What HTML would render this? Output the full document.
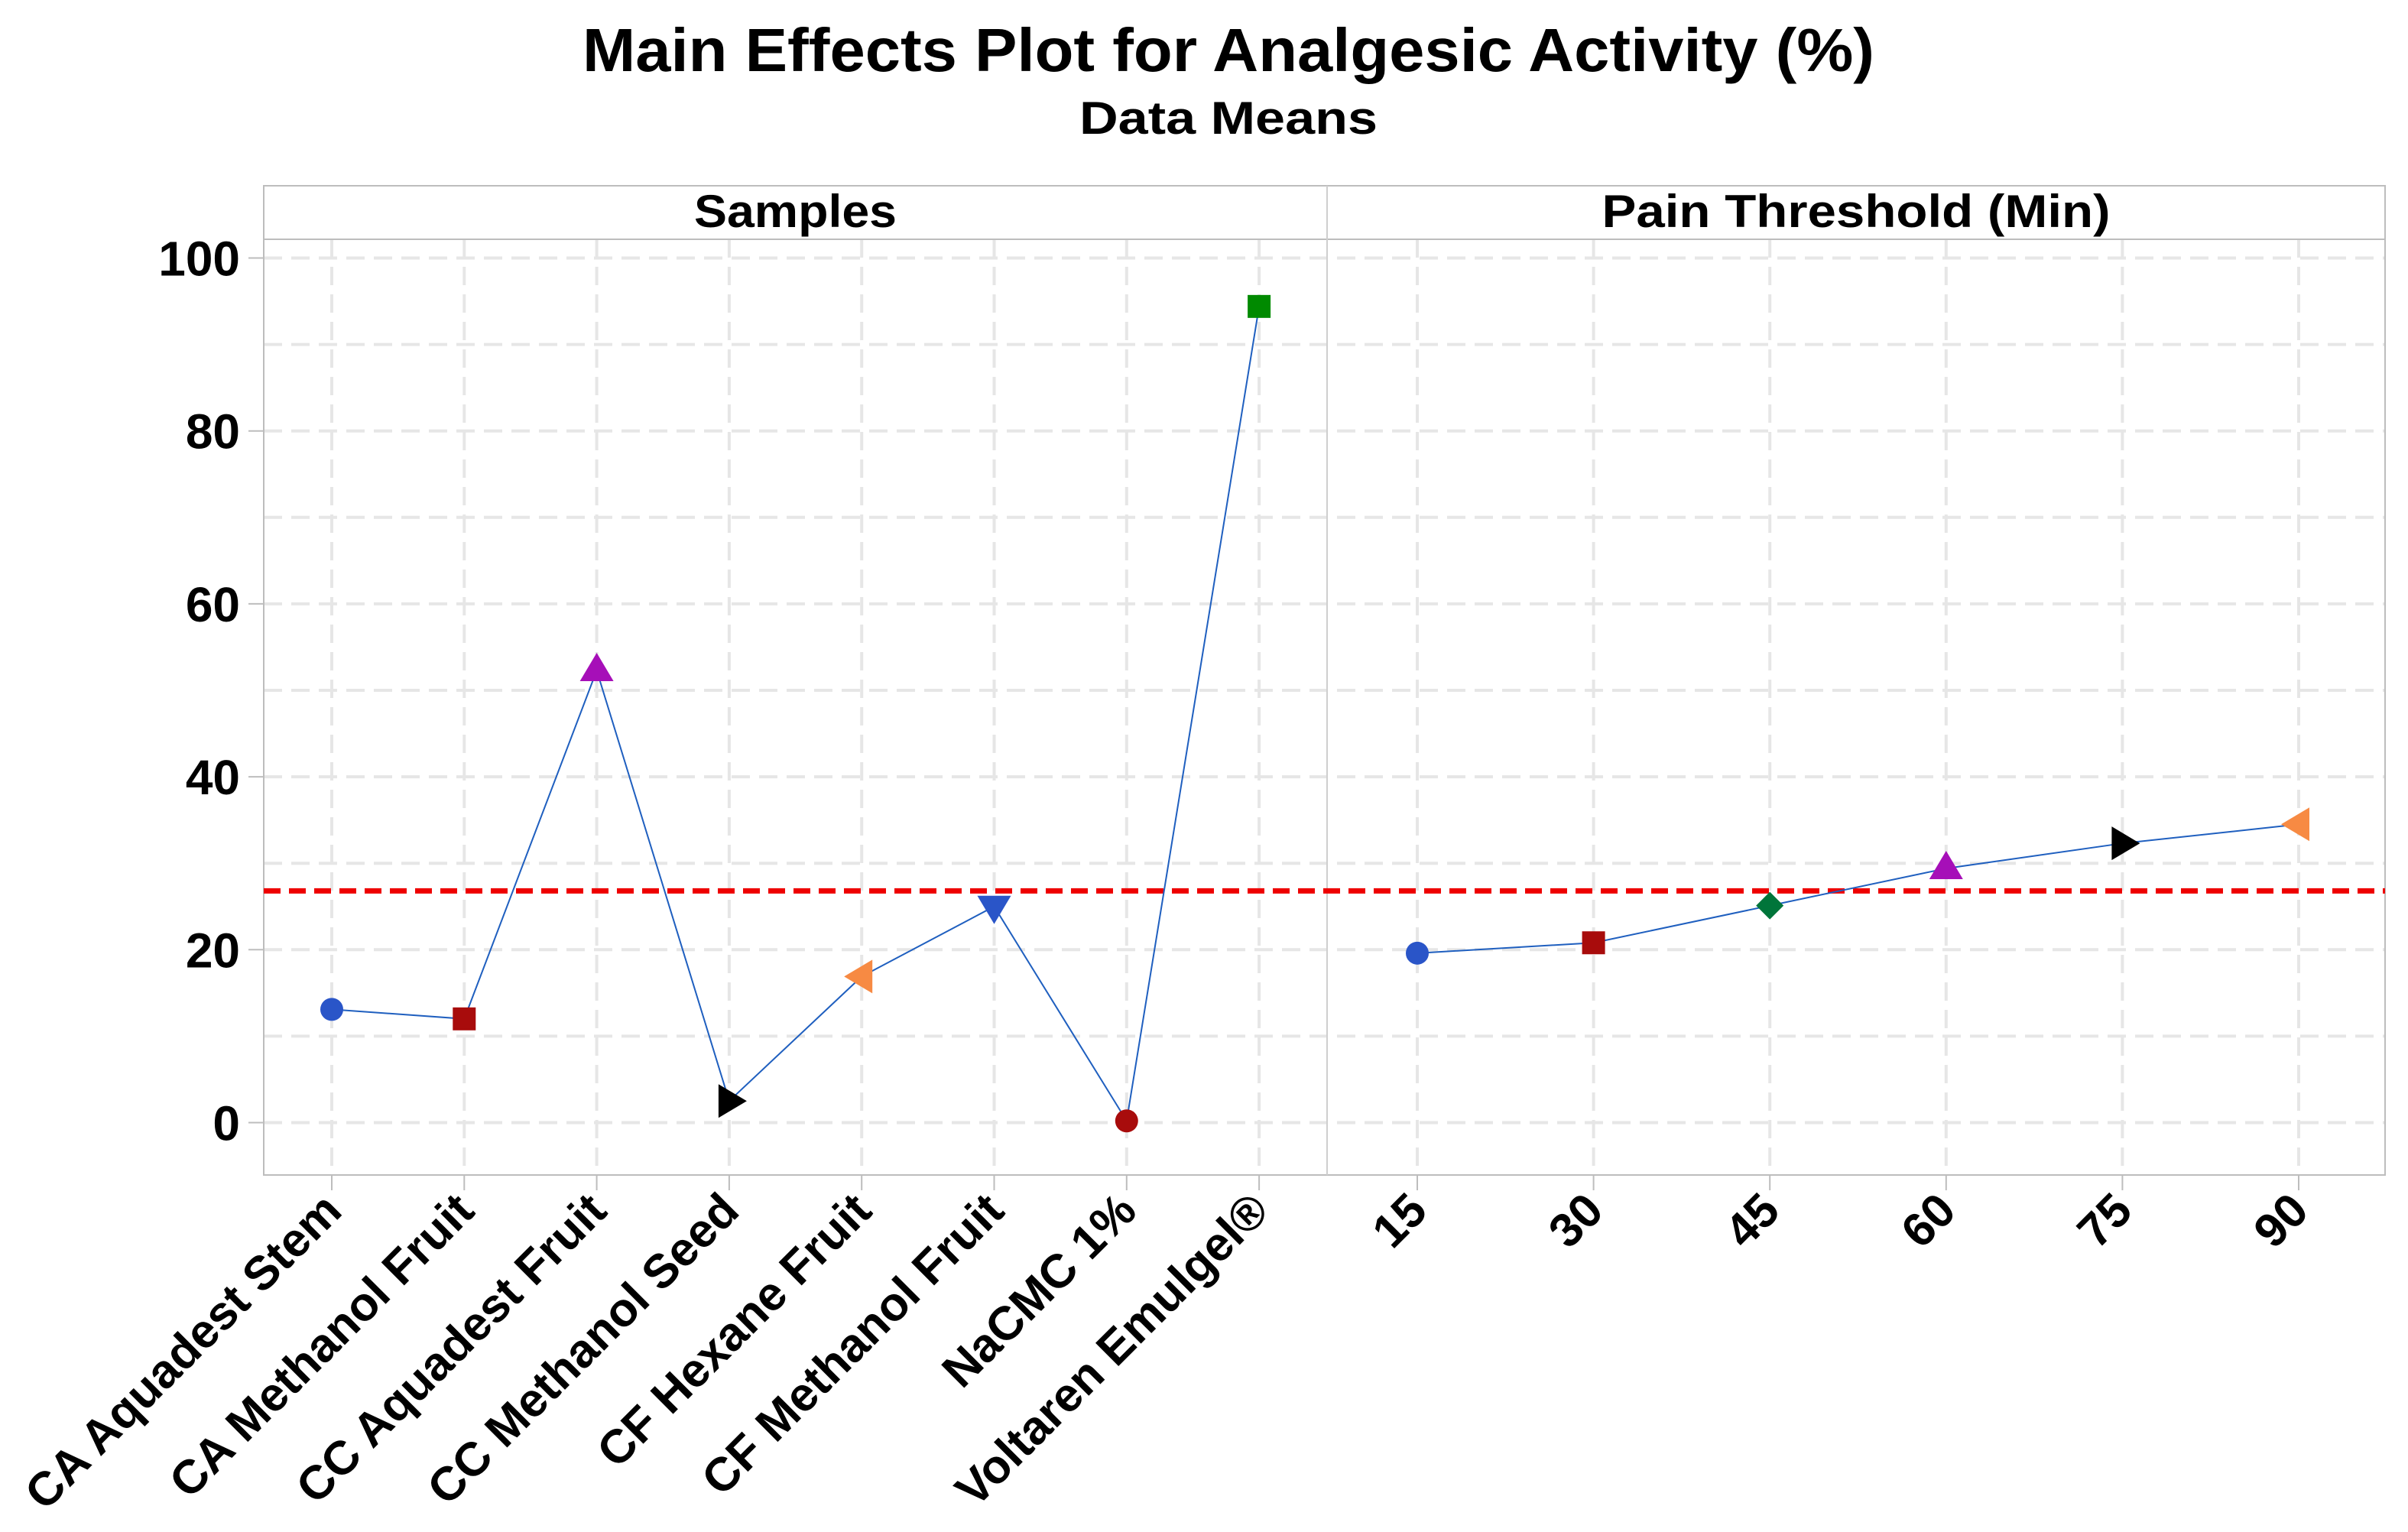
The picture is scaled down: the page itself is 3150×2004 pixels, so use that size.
<!DOCTYPE html>
<html><head><meta charset="utf-8"><style>
html,body{margin:0;padding:0;background:#fff}
svg{display:block}
text{font-family:"Liberation Sans",sans-serif;fill:#000;font-weight:bold}
</style></head><body>
<svg id="chart" width="3150" height="2004" viewBox="0 0 3150 2004" xmlns="http://www.w3.org/2000/svg">
<text x="1607" y="93" text-anchor="middle" font-size="80" textLength="1690" lengthAdjust="spacingAndGlyphs">Main Effects Plot for Analgesic Activity (%)</text>
<text x="1607" y="175" text-anchor="middle" font-size="60" textLength="390" lengthAdjust="spacingAndGlyphs">Data Means</text>
<g id="grid"></g>
<g id="frame"></g>
<g id="marks"></g>
<g id="labels"></g>
</svg>
<script>
const sampleCategories = ["CA Aquadest Stem","CA Methanol Fruit","CC Aquadest Fruit","CC Methanol Seed","CF Hexane Fruit","CF Methanol Fruit","NaCMC 1%","Voltaren Emulgel®"];
const sampleValues = [13.1, 12.0, 52.3, 2.5, 16.9, 25.0, 0.2, 94.4];
const painCategories = ["15","30","45","60","75","90"];
const painValues = [19.6, 20.8, 25.1, 29.4, 32.3, 34.5];
const grandMean = [26.8];
const yTicks = [0, 20, 40, 60, 80, 100];
const yGrid = [0,10,20,30,40,50,60,70,80,90,100];
const sampleShapes = ["circle","square","up","right","left","down","circle","square"];
const sampleColors = ["#2a55c8","#a80c0c","#a60fb8","#000000","#f78a43","#2a55c8","#a80c0c","#008a00"];
const painShapes = ["circle","square","diamond","up","right","left"];
const painColors = ["#2a55c8","#a80c0c","#00753a","#a60fb8","#000000","#f78a43"];

const NS="http://www.w3.org/2000/svg";
const gGrid=document.getElementById('grid'),gFrame=document.getElementById('frame'),gMarks=document.getElementById('marks'),gLab=document.getElementById('labels');
const L=345,R=3120,T=243,STRIP=313,B=1537,DIV=1736;
function y(v){return 1468.5-(v/100)*(1468.5-337.5);}
function xs(i){return 434+i*173.3;}
function xp(i){return 1854+i*230.6;}
function mk(tag,attrs,parent){const e=document.createElementNS(NS,tag);for(const k in attrs)e.setAttribute(k,attrs[k]);parent.appendChild(e);return e;}

yGrid.forEach(v=>{
  const l=mk('line',{x1:L,x2:R,y1:y(v),y2:y(v),stroke:'#e6e6e6','stroke-width':4,'stroke-dasharray':'24,12'},gGrid);
  
  
});
sampleCategories.forEach((c,i)=>{
  const l=mk('line',{x1:xs(i),x2:xs(i),y1:STRIP,y2:B,stroke:'#e6e6e6','stroke-width':4,'stroke-dasharray':'24,12'},gGrid);
  
  
});
painCategories.forEach((c,i)=>{
  const l=mk('line',{x1:xp(i),x2:xp(i),y1:STRIP,y2:B,stroke:'#e6e6e6','stroke-width':4,'stroke-dasharray':'24,12'},gGrid);
  
  
});
let e;
e=mk('rect',{x:L,y:T,width:R-L,height:B-T,fill:'none',stroke:'#bdbdbd','stroke-width':2},gFrame);


e=mk('line',{x1:L,x2:R,y1:STRIP,y2:STRIP,stroke:'#bdbdbd','stroke-width':2},gFrame);


e=mk('line',{x1:DIV,x2:DIV,y1:T,y2:B,stroke:'#cfcfcf','stroke-width':2},gFrame);


e=mk('text',{x:(L+DIV)/2,y:297,'text-anchor':'middle','font-size':60,textLength:265,lengthAdjust:'spacingAndGlyphs'},gFrame);e.textContent='Samples';


e=mk('text',{x:(DIV+R)/2,y:297,'text-anchor':'middle','font-size':60,textLength:665,lengthAdjust:'spacingAndGlyphs'},gFrame);e.textContent='Pain Threshold (Min)';



yTicks.forEach(v=>{
  const t=mk('line',{x1:325,x2:L,y1:y(v),y2:y(v),stroke:'#bdbdbd','stroke-width':2},gLab);
  
  
  const tx=mk('text',{x:314,y:y(v)+23,'text-anchor':'end','font-size':64},gLab);tx.textContent=v;
  
  
});
function xlab(x,txt,name){
  const t=mk('line',{x1:x,x2:x,y1:B,y2:B+20,stroke:'#bdbdbd','stroke-width':2},gLab);
  
  
  const tx=mk('text',{x:0,y:0,'text-anchor':'end','font-size':62,transform:`translate(${x+16},${B+50}) rotate(-45)`},gLab);
  tx.textContent=txt;
  
  
}
sampleCategories.forEach((c,i)=>xlab(xs(i),c,'sample-label'));
painCategories.forEach((c,i)=>xlab(xp(i),c,'pain-threshold-label'));

e=mk('line',{x1:L,x2:R,y1:y(grandMean[0]),y2:y(grandMean[0]),stroke:'#ee0000','stroke-width':7,'stroke-dasharray':'22,11'},gMarks);



function series(vals,xf,shapes,colors,name){
  const pts=vals.map((v,i)=>xf(i)+','+y(v)).join(' ');
  const pl=mk('polyline',{points:pts,fill:'none',stroke:'#1f5fbf','stroke-width':2},gMarks);
  
  
  vals.forEach((v,i)=>{
    const cx=xf(i),cy=y(v),c=colors[i],s=15;let m;
    switch(shapes[i]){
      case 'circle':m=mk('circle',{cx,cy,r:s,fill:c},gMarks);break;
      case 'square':m=mk('rect',{x:cx-s,y:cy-s,width:2*s,height:2*s,fill:c},gMarks);break;
      case 'diamond':m=mk('polygon',{points:`${cx},${cy-18} ${cx+18},${cy} ${cx},${cy+18} ${cx-18},${cy}`,fill:c},gMarks);break;
      case 'up':m=mk('polygon',{points:`${cx},${cy-23} ${cx+22},${cy+14} ${cx-22},${cy+14}`,fill:c},gMarks);break;
      case 'down':m=mk('polygon',{points:`${cx},${cy+23} ${cx+22},${cy-14} ${cx-22},${cy-14}`,fill:c},gMarks);break;
      case 'right':m=mk('polygon',{points:`${cx+23},${cy} ${cx-14},${cy-22} ${cx-14},${cy+22}`,fill:c},gMarks);break;
      case 'left':m=mk('polygon',{points:`${cx-23},${cy} ${cx+14},${cy-22} ${cx+14},${cy+22}`,fill:c},gMarks);break;
    }
    
    
  });
}
series(sampleValues,xs,sampleShapes,sampleColors,'samples');
series(painValues,xp,painShapes,painColors,'pain-threshold');
</script>
</body></html>
